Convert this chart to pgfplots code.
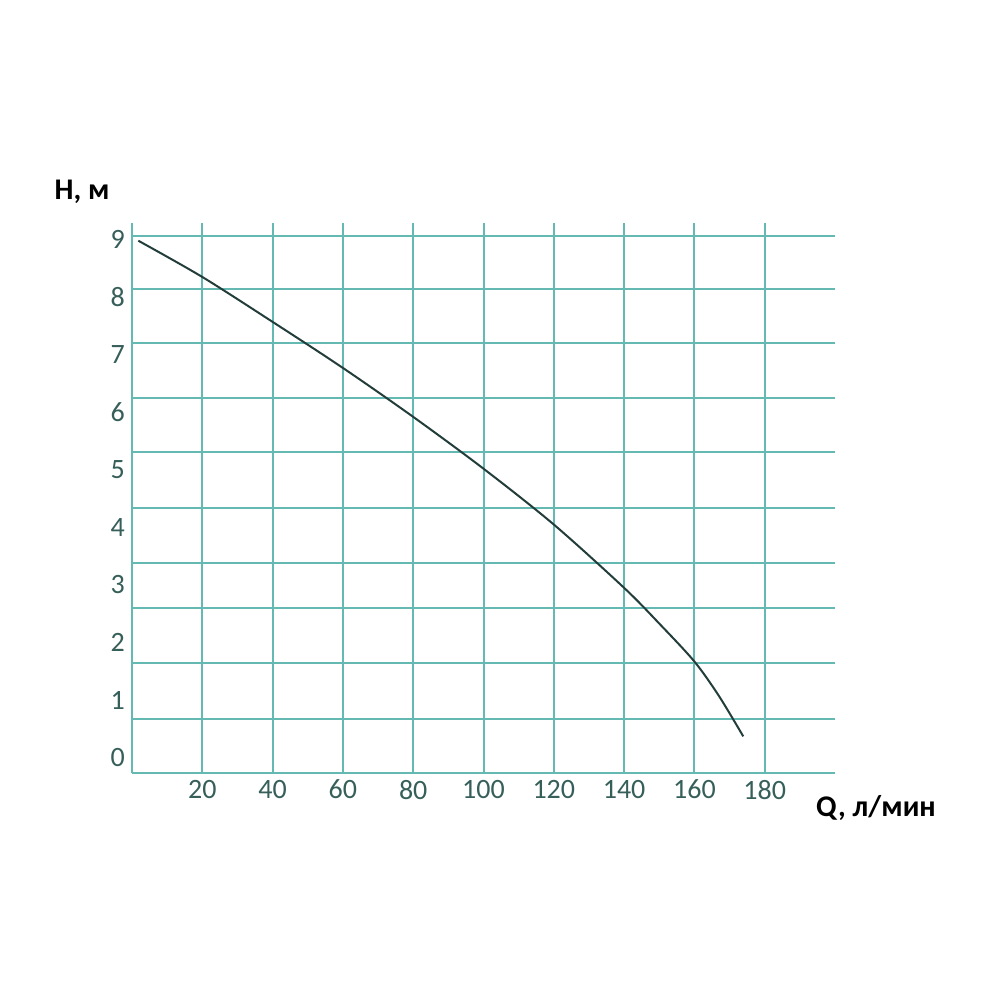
\documentclass[border=0pt]{standalone}
\usepackage{fontspec}
\setmainfont{Carlito}
\usepackage{pgfplots}
\pgfplotsset{compat=1.18}
\definecolor{gridc}{RGB}{100,185,178}
\definecolor{labc}{RGB}{55,95,90}
\definecolor{curvec}{RGB}{35,62,58}
\begin{document}
\begin{tikzpicture}[x=1pt,y=1pt]
\useasboundingbox (0,0) rectangle (500,500);
\begin{axis}[
  at={(66pt,113.5pt)}, anchor=south west,
  scale only axis, width=351.5pt, height=275pt,
  xmin=0, xmax=200, ymin=-0.266, ymax=9.288,
  axis line style={draw=none},
  xtick={20,40,...,180}, xmajorgrids,
  extra x ticks={0}, extra x tick labels={},
  ytick={0,...,9}, ymajorgrids=false,
  extra y ticks={-0.266,0.677,1.644,2.60,3.38,4.335,5.307,6.25,7.205,8.142,9.0625},
  extra y tick labels={},
  extra y tick style={grid=major},
  major tick length=0pt,
  grid style={gridc, line width=1pt},
  tick label style={font=\fontsize{14}{16}\selectfont, text=labc},
  /pgf/number format/assume math mode=true,
  clip=false,
]
\addplot[curvec, line width=1pt, smooth] coordinates {
(1.8,8.98) (20,8.35) (40,7.57) (60,6.77) (80,5.92) (100,5.02)
(120,4.05) (140,2.95) (150,2.33) (160,1.67) (167,1.07) (173.9,0.37)
};
\end{axis}
\node[font=\bfseries\fontsize{15}{18}\selectfont] at (41,404) {H, м};
\node[font=\bfseries\fontsize{15}{18}\selectfont] at (438,96) {Q, л/мин};
\end{tikzpicture}
\end{document}
